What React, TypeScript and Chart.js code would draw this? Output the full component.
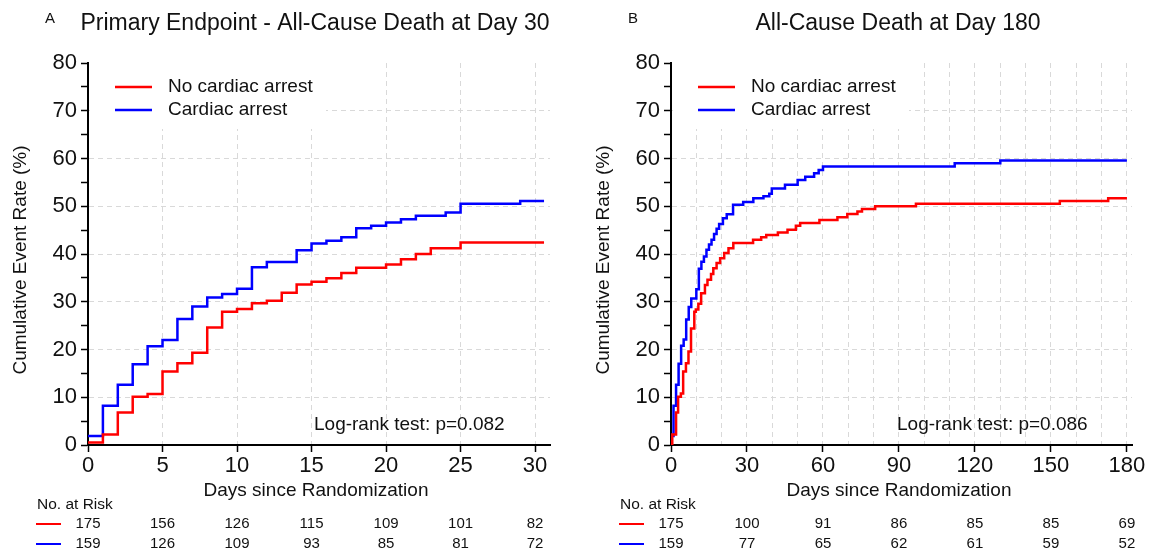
import React, { useEffect, useRef } from 'react';
import { Chart, registerables } from 'chart.js';

Chart.register(...registerables);

const FONT = '"Liberation Sans", Arial, Helvetica, sans-serif';
Chart.defaults.font.family = FONT;

const RED = '#ff0000';
const BLUE = '#0000ff';
const GRID = '#d9d9d9';
const TEXT = '#111111';

const seriesNames = ['No cardiac arrest', 'Cardiac arrest'];

// ---------- Panel A: day 30 ----------
const dayA_noArrest = [0, 1, 2, 3, 4, 5, 6, 7, 8, 9, 10, 11, 12, 13, 14, 15, 16, 17, 18, 20, 21, 22, 23, 25, 30.6];
const rateA_noArrest = [0.5, 2.2, 6.8, 10.1, 10.7, 15.4, 17.1, 19.3, 24.6, 27.9, 28.5, 29.7, 30.2, 31.9, 33.6, 34.2, 34.9, 36.0, 37.1, 37.8, 38.9, 40.0, 41.2, 42.4, 42.4];
const dayA_arrest = [0, 1, 2, 3, 4, 5, 6, 7, 8, 9, 10, 11, 12, 14, 15, 16, 17, 18, 19, 20, 21, 22, 24, 25, 29, 30.6];
const rateA_arrest = [1.9, 8.2, 12.6, 16.9, 20.7, 22.0, 26.4, 29.0, 30.9, 31.6, 32.7, 37.2, 38.3, 40.8, 42.2, 42.8, 43.5, 45.4, 45.9, 46.6, 47.3, 48.0, 48.7, 50.5, 51.1, 51.1];
const riskDaysA = [0, 5, 10, 15, 20, 25, 30];
const riskA_noArrest = [175, 156, 126, 115, 109, 101, 82];
const riskA_arrest = [159, 126, 109, 93, 85, 81, 72];
const xTicksA = [0, 5, 10, 15, 20, 25, 30];
const xLabelTicksA = [0, 5, 10, 15, 20, 25, 30];

// ---------- Panel B: day 180 ----------
const dayB_noArrest = [0, 0.5, 2, 2.8, 3.9, 4.8, 5.9, 6.9, 7.9, 9.2, 9.8, 10.8, 11.9, 13.4, 14.4, 15.8, 16.7, 18, 19.4, 21, 22.7, 24.6, 32.4, 35.6, 37.6, 42.2, 46, 49.3, 51, 58.6, 65.7, 69.6, 73.6, 75.4, 80.6, 96.7, 153.5, 172.6, 180];
const rateB_noArrest = [0, 2.2, 6.8, 10.1, 10.8, 15.4, 17.1, 19.6, 24.4, 27.9, 28.4, 29.6, 31.8, 33.5, 34.6, 35.8, 37.0, 38.1, 39.1, 40.2, 41.2, 42.3, 43.0, 43.5, 44.0, 44.5, 45.1, 45.9, 46.5, 47.1, 47.7, 48.4, 48.9, 49.4, 50.0, 50.5, 51.1, 51.7, 51.7];
const dayB_arrest = [0, 0.3, 1, 2, 3, 4, 5, 6, 7, 8, 10, 11, 12, 13, 14, 15, 16, 17, 18, 19, 20.5, 22, 24.5, 28.5, 32.5, 36.5, 38.8, 39.8, 45, 50, 53, 56.5, 58.3, 60, 112, 130, 180];
const rateB_arrest = [0, 1.9, 8.2, 12.6, 17.0, 20.8, 22.1, 26.3, 28.9, 30.7, 32.6, 36.9, 38.4, 39.5, 40.9, 42.0, 43.0, 44.2, 45.3, 46.3, 47.5, 48.3, 50.3, 50.9, 51.7, 52.1, 52.6, 53.7, 54.5, 55.5, 56.2, 56.9, 57.6, 58.3, 59.0, 59.6, 59.6];
const riskDaysB = [0, 30, 60, 90, 120, 150, 180];
const riskB_noArrest = [175, 100, 91, 86, 85, 85, 69];
const riskB_arrest = [159, 77, 65, 62, 61, 59, 52];
const xTicksB = [0, 10, 20, 30, 40, 50, 60, 70, 80, 90, 100, 110, 120, 130, 140, 150, 160, 170, 180];
const xLabelTicksB = [0, 30, 60, 90, 120, 150, 180];

const yTicks = [0, 5, 10, 15, 20, 25, 30, 35, 40, 45, 50, 55, 60, 65, 70, 75, 80];
const yLabelTicks = [0, 10, 20, 30, 40, 50, 60, 70, 80];

type PanelDef = {
  letter: string;
  title: string;
  pText: string;
  xMax: number;
  xTicks: number[];
  xLabelTicks: number[];
  redX: number[];
  redY: number[];
  blueX: number[];
  blueY: number[];
  riskDays: number[];
  riskRed: number[];
  riskBlue: number[];
  left: number;
  width: number;
  padRight: number;
};

const panels: PanelDef[] = [
  {
    letter: 'A',
    title: 'Primary Endpoint - All-Cause Death at Day 30',
    pText: 'Log-rank test: p=0.082',
    xMax: 31,
    xTicks: xTicksA,
    xLabelTicks: xLabelTicksA,
    redX: dayA_noArrest,
    redY: rateA_noArrest,
    blueX: dayA_arrest,
    blueY: rateA_arrest,
    riskDays: riskDaysA,
    riskRed: riskA_noArrest,
    riskBlue: riskA_arrest,
    left: 0,
    width: 575,
    padRight: 25,
  },
  {
    letter: 'B',
    title: 'All-Cause Death at Day 180',
    pText: 'Log-rank test: p=0.086',
    xMax: 182,
    xTicks: xTicksB,
    xLabelTicks: xLabelTicksB,
    redX: dayB_noArrest,
    redY: rateB_noArrest,
    blueX: dayB_arrest,
    blueY: rateB_arrest,
    riskDays: riskDaysB,
    riskRed: riskB_noArrest,
    riskBlue: riskB_arrest,
    left: 583,
    width: 568,
    padRight: 19,
  },
];

function KMPanel({ def }: { def: PanelDef }) {
  const ref = useRef<HTMLCanvasElement>(null);

  useEffect(() => {
    const canvas = ref.current;
    if (!canvas) return;
    const toPts = (xs: number[], ys: number[]) => xs.map((x, i) => ({ x, y: ys[i] }));

    const overlay = {
      id: 'kmOverlay',
      beforeDatasetsDraw(chart: any) {
        const { ctx, chartArea: ca } = chart;
        ctx.save();
        ctx.fillStyle = '#ffffff';
        ctx.fillRect(ca.left + 2, ca.top, 236, 66);
        ctx.restore();
      },
      afterDraw(chart: any) {
        const { ctx, chartArea: ca } = chart;
        const xs = chart.scales.x;
        ctx.save();
        ctx.fillStyle = TEXT;
        ctx.textBaseline = 'middle';

        // panel letter
        ctx.font = `15px ${FONT}`;
        ctx.textAlign = 'center';
        ctx.fillText(def.letter, ca.left - 38, 19);

        // title
        ctx.font = `23px ${FONT}`;
        ctx.textAlign = 'center';
        ctx.fillText(def.title, ca.left + 227, 24);

        // legend
        const legendRows = [
          { name: seriesNames[0], color: RED, y: 87 },
          { name: seriesNames[1], color: BLUE, y: 110 },
        ];
        ctx.font = `19px ${FONT}`;
        ctx.textAlign = 'left';
        legendRows.forEach((r) => {
          ctx.strokeStyle = r.color;
          ctx.lineWidth = 2.5;
          ctx.beginPath();
          ctx.moveTo(ca.left + 27, r.y);
          ctx.lineTo(ca.left + 64, r.y);
          ctx.stroke();
          ctx.fillStyle = TEXT;
          ctx.fillText(r.name, ca.left + 80, r.y);
        });

        // log-rank
        ctx.font = `19px ${FONT}`;
        ctx.textAlign = 'left';
        ctx.fillText(def.pText, ca.left + 226, 425);

        // y title
        ctx.save();
        ctx.translate(ca.left - 67, 260);
        ctx.rotate(-Math.PI / 2);
        ctx.textAlign = 'center';
        ctx.font = `19px ${FONT}`;
        ctx.fillText('Cumulative Event Rate (%)', 0, 0);
        ctx.restore();

        // x title
        ctx.font = `19px ${FONT}`;
        ctx.textAlign = 'center';
        ctx.fillText('Days since Randomization', ca.left + 228, 491);

        // risk table
        ctx.font = `15.5px ${FONT}`;
        ctx.textAlign = 'left';
        ctx.fillText('No. at Risk', ca.left - 51, 505);
        const rows = [
          { vals: def.riskRed, color: RED, y: 524 },
          { vals: def.riskBlue, color: BLUE, y: 544 },
        ];
        ctx.font = `15px ${FONT}`;
        rows.forEach((r) => {
          ctx.strokeStyle = r.color;
          ctx.lineWidth = 2;
          ctx.beginPath();
          ctx.moveTo(ca.left - 52, r.y);
          ctx.lineTo(ca.left - 27, r.y);
          ctx.stroke();
          ctx.fillStyle = TEXT;
          ctx.textAlign = 'center';
          r.vals.forEach((v, i) => {
            ctx.fillText(String(v), xs.getPixelForValue(def.riskDays[i]), r.y);
          });
        });
        ctx.restore();
      },
    };

    const chart = new Chart(canvas, {
      type: 'line',
      data: {
        datasets: [
          {
            label: seriesNames[0],
            data: toPts(def.redX, def.redY),
            borderColor: RED,
            borderWidth: 2.5,
            stepped: 'before',
            pointRadius: 0,
            fill: false,
          },
          {
            label: seriesNames[1],
            data: toPts(def.blueX, def.blueY),
            borderColor: BLUE,
            borderWidth: 2.5,
            stepped: 'before',
            pointRadius: 0,
            fill: false,
          },
        ],
      },
      options: {
        responsive: false,
        animation: false,
        events: [],
        layout: { padding: { left: 0, right: def.padRight, top: 63, bottom: 0 } },
        plugins: {
          legend: { display: false },
          tooltip: { enabled: false },
          title: { display: false },
        },
        scales: {
          x: {
            type: 'linear',
            min: 0,
            max: def.xMax,
            afterFit: (s: any) => {
              s.height = 106;
            },
            afterBuildTicks: (s: any) => {
              s.ticks = def.xTicks.map((v) => ({ value: v }));
            },
            ticks: {
              autoSkip: false,
              maxRotation: 0,
              padding: 1,
              color: TEXT,
              font: { size: 22, family: FONT },
              callback: (v: any) => (def.xLabelTicks.includes(Number(v)) ? String(v) : ''),
            },
            grid: {
              color: (c: any) => (c.tick && c.tick.value !== 0 ? GRID : 'rgba(0,0,0,0)'),
              lineWidth: 1,
              drawTicks: true,
              tickLength: 7,
              tickWidth: 1.5,
              tickColor: (c: any) =>
                c.tick && def.xLabelTicks.includes(c.tick.value) ? '#000' : 'rgba(0,0,0,0)',
            },
            border: { display: true, color: '#000', width: 2, dash: [5, 4] },
          },
          y: {
            type: 'linear',
            min: 0,
            max: 80,
            afterFit: (s: any) => {
              s.width = 88;
            },
            afterBuildTicks: (s: any) => {
              s.ticks = yTicks.map((v) => ({ value: v }));
            },
            ticks: {
              autoSkip: false,
              padding: 4,
              color: TEXT,
              font: { size: 22, family: FONT },
              callback: (v: any) => (yLabelTicks.includes(Number(v)) ? String(v) : ''),
            },
            grid: {
              color: (c: any) =>
                c.tick && c.tick.value % 10 === 0 && c.tick.value !== 0 && c.tick.value !== 80
                  ? GRID
                  : 'rgba(0,0,0,0)',
              lineWidth: 1,
              drawTicks: true,
              tickLength: 7,
              tickWidth: 1.5,
              tickColor: '#000',
            },
            border: { display: true, color: '#000', width: 2, dash: [5, 4] },
          },
        },
      },
      plugins: [overlay],
    } as any);

    return () => chart.destroy();
  }, [def]);

  return (
    <canvas
      ref={ref}
      width={def.width}
      height={551}
      style={{ position: 'absolute', left: def.left, top: 0, width: def.width, height: 551, display: 'block' }}
    />
  );
}

export default function App() {
  return (
    <div
      style={{
        position: 'fixed',
        left: 0,
        top: 0,
        width: 1151,
        height: 551,
        background: '#ffffff',
        overflow: 'hidden',
      }}
    >
      {panels.map((p) => (
        <KMPanel key={p.letter} def={p} />
      ))}
    </div>
  );
}
